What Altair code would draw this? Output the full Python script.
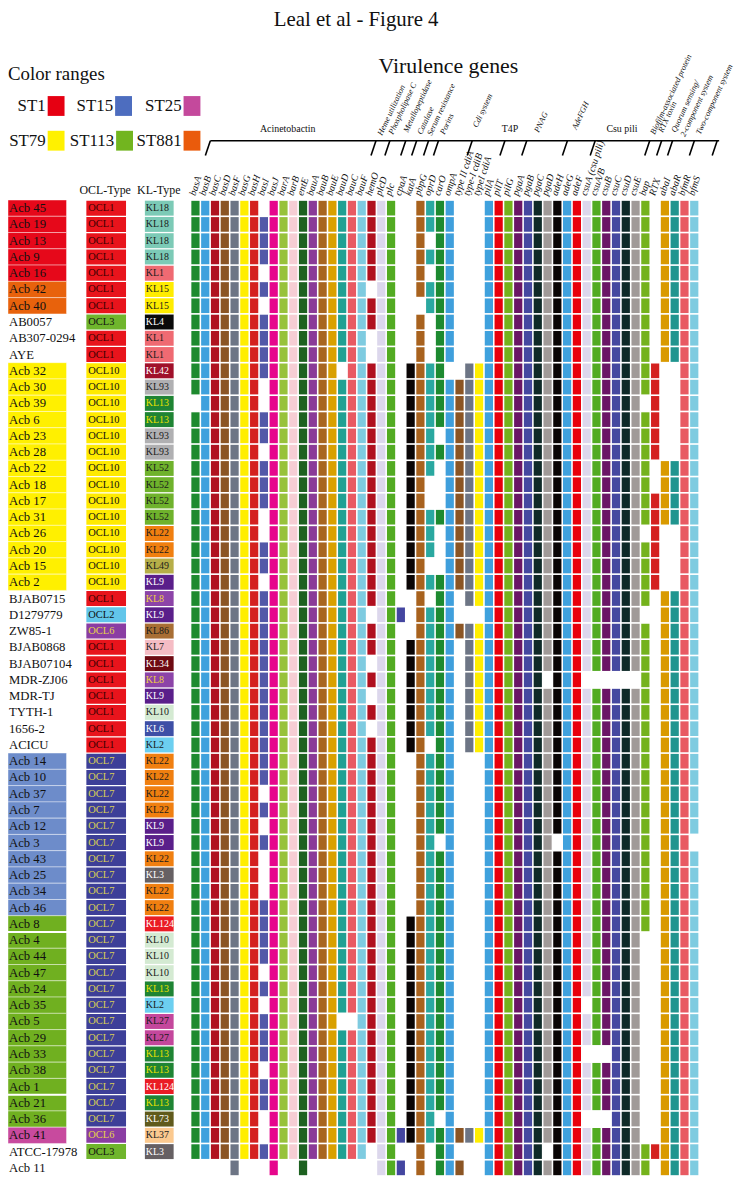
import altair as alt
import pandas as pd

SERIF = "Liberation Serif"

# ---------------- data ----------------
strains = ["Acb 45", "Acb 19", "Acb 13", "Acb 9", "Acb 16", "Acb 42", "Acb 40", "AB0057", "AB307-0294", "AYE",
           "Acb 32", "Acb 30", "Acb 39", "Acb 6", "Acb 23", "Acb 28", "Acb 22", "Acb 18", "Acb 17", "Acb 31",
           "Acb 26", "Acb 20", "Acb 15", "Acb 2",
           "BJAB0715", "D1279779", "ZW85-1", "BJAB0868", "BJAB07104", "MDR-ZJ06", "MDR-TJ", "TYTH-1", "1656-2", "ACICU",
           "Acb 14", "Acb 10", "Acb 37", "Acb 7", "Acb 12", "Acb 3", "Acb 43", "Acb 25", "Acb 34", "Acb 46",
           "Acb 8", "Acb 4", "Acb 44", "Acb 47", "Acb 24", "Acb 35", "Acb 5", "Acb 29", "Acb 33", "Acb 38",
           "Acb 1", "Acb 21", "Acb 36",
           "Acb 41", "ATCC-17978", "Acb 11"]

st_types = (["ST1"] * 5 + ["ST881"] * 2 + [""] * 3 + ["ST79"] * 14 + [""] * 10 +
            ["ST15"] * 10 + ["ST113"] * 13 + ["ST25"] + [""] * 2)
st_block_breaks = ["Acb 8", "Acb 1"]

ocl_types = (["OCL1"] * 7 + ["OCL3"] + ["OCL1"] * 2 + ["OCL10"] * 14 +
             ["OCL1", "OCL2", "OCL6"] + ["OCL1"] * 7 + ["OCL7"] * 23 + ["OCL6", "OCL3", ""])

kl_types = ["KL18", "KL18", "KL18", "KL18", "KL1", "KL15", "KL15", "KL4", "KL1", "KL1",
            "KL42", "KL93", "KL13", "KL13", "KL93", "KL93", "KL52", "KL52", "KL52", "KL52", "KL22", "KL22", "KL49", "KL9",
            "KL8", "KL9", "KL86", "KL7", "KL34", "KL8", "KL9", "KL10", "KL6", "KL2",
            "KL22", "KL22", "KL22", "KL22", "KL9", "KL9", "KL22", "KL3", "KL22", "KL22",
            "KL124", "KL10", "KL10", "KL10", "KL13", "KL2", "KL27", "KL27", "KL13", "KL13", "KL124", "KL13", "KL73",
            "KL37", "KL3", ""]

genes = ["basA", "basB", "basC", "basD", "basF", "basG", "basH", "basI", "basJ", "barA", "barB", "entE",
         "bauA", "bauB", "bauE", "bauD", "bauC", "bauF", "hemO", "plcD", "plc", "cpaA", "katA", "pbpG",
         "oprD", "carO", "ompA", "type II cdiA", "type-I cdiB", "typeI cdiA", "pilA", "pilT", "pilG",
         "pgaA", "pgaB", "pgaC", "pgaD", "adeH", "adeG", "adeF", "csuA (csu pili)", "csuA/B", "csuB",
         "csuC", "csuD", "csuE", "bap", "RTX", "abaI", "abaR", "bfmR", "bfmS"]

gene_colors = ["#1e8a2e", "#3fa1dd", "#b0111f", "#8b5524", "#6d7585", "#ffee00", "#d4211f", "#5259a8",
               "#e6068c", "#97c23a", "#f6cdd4", "#1d6120", "#8a3a98", "#a8661f", "#d9a000", "#20a093",
               "#e85a62", "#7ecbe0", "#b0101f", "#dcd7ec", "#52ab22", "#4446a0", "#0a0505", "#a8621e",
               "#2aa8a0", "#1d8a30", "#3f9fdc", "#8b5524", "#6d7585", "#ffee00", "#3fa1dd", "#e8000c",
               "#74b21c", "#6a1666", "#4548a0", "#0e2a28", "#a09a98", "#0a0505", "#3fa1dd", "#e8000c",
               "#dcd7ec", "#52ab22", "#6a1666", "#4548a0", "#0e2a28", "#a09a98", "#74b21c", "#d4211f",
               "#d99a00", "#20958f", "#e85a62", "#7ecbe0"]

# genes (1-based) missing in each strain
absent = [
    [8, 22, 23, 28, 29, 30, 48],
    [22, 23, 28, 29, 30, 48],
    [22, 23, 25, 28, 29, 30, 48],
    [22, 23, 28, 29, 30, 48],
    [8, 22, 23, 25, 28, 29, 30, 48],
    [19, 22, 23, 28, 29, 30, 48],
    [8, 22, 23, 24, 28, 29, 30, 48],
    [22, 23, 25, 28, 29, 30, 48],
    [19, 22, 23, 25, 28, 29, 30, 48],
    [19, 22, 23, 25, 28, 29, 30, 48],
    [16, 22, 27, 28, 49, 50],
    [8, 22, 49, 50],
    [1, 8, 22, 47, 49, 50],
    [22, 49, 50],
    [22, 26, 49, 50],
    [8, 22, 49, 50],
    [22, 26, 48],
    [22, 25, 26, 48],
    [22, 25, 26],
    [8, 22],
    [8, 22, 26, 47, 49, 50],
    [22, 26, 49, 50],
    [22, 25, 26, 49, 50],
    [8, 22, 49, 50],
    [22, 23, 25, 28, 48],
    [19, 23, 28, 29, 30, 47, 48],
    [22, 23, 48],
    [22, 28, 48],
    [19, 22, 28, 48],
    [22, 28, 37, 41, 42, 43, 44, 45, 46, 48],
    [19, 22, 28, 48],
    [22, 28, 48],
    [19, 22, 28, 48],
    [22, 25, 28, 48],
    [22, 23, 28, 29, 30, 48],
    [22, 23, 28, 29, 30, 48],
    [8, 22, 23, 28, 29, 30, 48],
    [22, 23, 28, 29, 30, 48],
    [8, 22, 23, 28, 29, 30, 48],
    [22, 23, 26, 28, 29, 30, 38, 48, 52],
    [8, 22, 23, 28, 29, 30, 48],
    [8, 22, 23, 28, 29, 30, 48],
    [8, 22, 23, 28, 29, 30, 48],
    [22, 23, 28, 29, 30, 48],
    [22, 28, 29, 30, 48],
    [22, 28, 29, 30, 47, 48],
    [22, 28, 29, 30, 47, 48],
    [8, 22, 28, 29, 30, 47, 48],
    [22, 28, 29, 30, 47, 48],
    [8, 22, 28, 29, 30, 41, 47, 48],
    [16, 17, 22, 28, 29, 30, 47, 48],
    [22, 28, 29, 30, 47, 48],
    [22, 28, 29, 30, 41, 42, 43, 47, 48],
    [8, 22, 28, 29, 30, 47, 48],
    [22, 28, 29, 30, 47, 48],
    [22, 28, 29, 30, 47, 48],
    [8, 22, 26, 28, 29, 30, 41, 42, 43, 47, 48],
    [8, 47, 48],
    [19, 22, 23, 25, 28, 29, 30, 37],
    [1, 2, 3, 4, 6, 7, 8, 10, 11, 13, 14, 15, 16, 17, 18, 19, 23, 25, 29, 30, 48],
]

st_colors = {"ST1": "#e6081a", "ST881": "#e8620c", "ST79": "#fff000", "ST15": "#6d8cca",
             "ST113": "#70b020", "ST25": "#c84a9e"}
legend_st = ["ST1", "ST15", "ST25", "ST79", "ST113", "ST881"]
legend_colors = ["#e60012", "#4d6dbf", "#c4499c", "#fff100", "#72b51f", "#ea5b0c"]

ocl_colors = {"OCL1": "#e8141c", "OCL3": "#6fb52c", "OCL10": "#ffea00", "OCL2": "#62c6ea",
              "OCL6": "#8a3da3", "OCL7": "#3d3f98"}
ocl_text_colors = {"OCL1": "#3a0000", "OCL3": "#111111", "OCL10": "#111111", "OCL2": "#111111",
                   "OCL6": "#e6d34a", "OCL7": "#d9cf55"}
kl_colors = {"KL18": "#7ccab6", "KL1": "#ef6a72", "KL15": "#ffec00", "KL4": "#0a0a0a", "KL42": "#a0102a",
             "KL93": "#b0b0b2", "KL13": "#1f8434", "KL52": "#6fb22c", "KL22": "#f07f10", "KL49": "#b6ae48",
             "KL9": "#5a1f8a", "KL8": "#8c44a8", "KL86": "#a86e34", "KL7": "#f5bcc4", "KL34": "#6e0a12",
             "KL10": "#d4ead2", "KL6": "#3e4fa6", "KL2": "#6ccff0", "KL3": "#666063", "KL124": "#ea1c24",
             "KL27": "#c4479c", "KL73": "#605a1c", "KL37": "#fbc98f"}
kl_light_text = {"KL4": "#ffffff", "KL42": "#ffffff", "KL9": "#ffffff", "KL34": "#ffffff", "KL6": "#ffffff",
                 "KL3": "#ffffff", "KL124": "#ffffff", "KL73": "#ffffff", "KL13": "#e8e000", "KL8": "#f0d040"}

group_labels_rot = ["Heme utilization", "Phospholipase C", "Metallopeptidase", "Catalase",
                    "Serum resistance", "Porins", "Cdi system", "PNAG", "AdeFGH",
                    "Biofilm-associated protein", "RTX toxin", "Quorum sensing/\n2-component system",
                    "Two-component system"]
group_labels_flat = ["Acinetobactin", "T4P", "Csu pili"]

# ---------------- layout (pixels, chart coordinates) ----------------
XS = alt.Scale(domain=[0, 51], range=[189, 691.9], nice=False, zero=False)
YS = alt.Scale(domain=[0, 59], range=[197, 1164.6], nice=False, zero=False)

rot_pos = [(379, 125), (390, 124), (405, 122), (419, 124), (429, 125), (442, 124), (475, 117),
           (537, 122), (575, 119), (654, 124), (662, 122), (675, 122), (700, 124)]
flat_pos = [(282, 122), (506, 122), (619, 122)]
tick_tops = [204, 371, 385, 401, 412, 424, 434, 468, 501, 523, 564, 592, 647, 659, 670, 692, 715]
legend_pos = [(40, 94), (108, 94), (177, 94), (40, 129), (109, 129), (177, 129)]

# ---------------- tables ----------------
cells = []
for r, name in enumerate(strains):
    miss = set(absent[r])
    for g in range(len(genes)):
        if (g + 1) not in miss:
            cells.append({"r": r, "g": g, "color": gene_colors[g],
                          "x1": g - 0.42, "x2": g + 0.42, "y1": r - 0.45, "y2": r + 0.45})
cell_df = pd.DataFrame(cells)

tab = pd.DataFrame({"r": range(len(strains)), "name": strains, "st": st_types,
                    "ocl": ocl_types, "kl": kl_types})
tab["yb1"] = tab["r"] - 0.5
tab["yb2"] = tab["r"] + 0.5
tab["yc1"] = tab["r"] - 0.46
tab["yc2"] = tab["r"] + 0.46
tab["st_color"] = tab["st"].map(lambda s: st_colors.get(s, "#ffffff"))
tab["ocl_color"] = tab["ocl"].map(lambda s: ocl_colors.get(s, "#ffffff"))
tab["ocl_tc"] = tab["ocl"].map(lambda s: ocl_text_colors.get(s, "#111111"))
tab["kl_color"] = tab["kl"].map(lambda s: kl_colors.get(s, "#ffffff"))
tab["kl_tc"] = tab["kl"].map(lambda s: kl_light_text.get(s, "#1a1a1a"))

st_tab = tab[tab["st"] != ""]
ocl_tab = tab[tab["ocl"] != ""]
kl_tab = tab[tab["kl"] != ""]
sep_df = pd.DataFrame({"ys": [strains.index(s) + 0.5 for s in st_block_breaks]})

gene_df = pd.DataFrame({"g": [i - 0.3 for i in range(len(genes))], "gene": genes})

rot_df = pd.DataFrame({"label": group_labels_rot, "px": [p[0] for p in rot_pos], "py": [p[1] for p in rot_pos]})
flat_df = pd.DataFrame({"label": group_labels_flat, "px": [p[0] for p in flat_pos], "py": [p[1] for p in flat_pos]})

seg = [{"x": 204, "y": 129, "x2": 717, "y2": 129}]
for t in tick_tops:
    seg.append({"x": t, "y": 129, "x2": t - 5, "y2": 144})
seg_df = pd.DataFrame(seg)

leg_df = pd.DataFrame({"label": legend_st, "color": legend_colors,
                       "bx": [p[0] for p in legend_pos], "by": [p[1] for p in legend_pos]})
leg_df["bx2"] = leg_df["bx"] + 17
leg_df["by1"] = leg_df["by"] - 10
leg_df["by2"] = leg_df["by"] + 10
leg_df["tx"] = leg_df["bx"] - 2

head_df = pd.DataFrame({"label": ["Leal et al - Figure 4", "Virulence genes", "Color ranges", "OCL-Type", "KL-Type"],
                        "px": [351, 444, 0, 98, 152], "py": [7, 54, 62, 179, 179],
                        "size": [21, 22, 19, 12, 12],
                        "align": ["center", "center", "left", "center", "center"]})


def pxX(f):
    return alt.X(f, scale=None, axis=None)


def pxY(f):
    return alt.Y(f, scale=None, axis=None)


# ---------------- layers ----------------
name_bg = alt.Chart(st_tab).mark_rect(stroke="white", strokeWidth=0.6, strokeOpacity=0.7).encode(
    x=alt.value(0), x2=alt.value(59),
    y=alt.Y("yb1:Q", scale=YS, axis=None), y2="yb2:Q",
    color=alt.Color("st_color:N", scale=None))

seps = alt.Chart(sep_df).mark_rule(color="white", strokeWidth=2).encode(
    x=alt.value(0), x2=alt.value(60), y=alt.Y("ys:Q", scale=YS, axis=None))

name_txt = alt.Chart(tab).mark_text(align="left", baseline="middle", font=SERIF, fontSize=12.8,
                                    color="#111111").encode(
    x=alt.value(1), y=alt.Y("r:Q", scale=YS, axis=None), text="name:N")

ocl_rect = alt.Chart(ocl_tab).mark_rect().encode(
    x=alt.value(79), x2=alt.value(119),
    y=alt.Y("yc1:Q", scale=YS, axis=None), y2="yc2:Q",
    color=alt.Color("ocl_color:N", scale=None))
ocl_txt = alt.Chart(ocl_tab).mark_text(align="left", baseline="middle", font=SERIF, fontSize=10.5).encode(
    x=alt.value(81), y=alt.Y("r:Q", scale=YS, axis=None), text="ocl:N",
    color=alt.Color("ocl_tc:N", scale=None))

kl_rect = alt.Chart(kl_tab).mark_rect().encode(
    x=alt.value(138), x2=alt.value(167),
    y=alt.Y("yc1:Q", scale=YS, axis=None), y2="yc2:Q",
    color=alt.Color("kl_color:N", scale=None))
kl_txt = alt.Chart(kl_tab).mark_text(align="left", baseline="middle", font=SERIF, fontSize=10).encode(
    x=alt.value(139), y=alt.Y("r:Q", scale=YS, axis=None), text="kl:N",
    color=alt.Color("kl_tc:N", scale=None))

heat = alt.Chart(cell_df).mark_rect().encode(
    x=alt.X("x1:Q", scale=XS, axis=None), x2="x2:Q",
    y=alt.Y("y1:Q", scale=YS, axis=None), y2="y2:Q",
    color=alt.Color("color:N", scale=None))

gene_txt = alt.Chart(gene_df).mark_text(align="left", baseline="middle", angle=288, font=SERIF,
                                        fontStyle="italic", fontSize=10, color="#111111").encode(
    x=alt.X("g:Q", scale=XS, axis=None), y=alt.value(184), text="gene:N")

rot_txt = alt.Chart(rot_df).mark_text(align="left", baseline="bottom", angle=295, font=SERIF,
                                      fontStyle="italic", fontSize=8.3, lineBreak="\n",
                                      color="#111111").encode(
    x=pxX("px:Q"), y=pxY("py:Q"), text="label:N")

flat_txt = alt.Chart(flat_df).mark_text(align="center", baseline="bottom", font=SERIF, fontSize=10,
                                        color="#111111").encode(
    x=pxX("px:Q"), y=pxY("py:Q"), text="label:N")

bracket = alt.Chart(seg_df).mark_rule(color="black", strokeWidth=1.6).encode(
    x=pxX("x:Q"), y=pxY("y:Q"), x2="x2:Q", y2="y2:Q")

leg_rect = alt.Chart(leg_df).mark_rect().encode(
    x=pxX("bx:Q"), x2="bx2:Q", y=pxY("by1:Q"), y2="by2:Q",
    color=alt.Color("color:N", scale=None))
leg_txt = alt.Chart(leg_df).mark_text(align="right", baseline="middle", font=SERIF, fontSize=17,
                                      color="#111111").encode(
    x=pxX("tx:Q"), y=pxY("by:Q"), text="label:N")

head_layers = []
for i in range(len(head_df)):
    sub = head_df.iloc[[i]]
    head_layers.append(alt.Chart(sub).mark_text(
        align=sub["align"].iloc[0], baseline="middle", font=SERIF,
        fontSize=float(sub["size"].iloc[0]), color="#111111").encode(
        x=pxX("px:Q"), y=pxY("py:Q"), text="label:N"))

chart = alt.layer(
    name_bg, seps, name_txt, ocl_rect, ocl_txt, kl_rect, kl_txt, heat, gene_txt,
    bracket, rot_txt, flat_txt, leg_rect, leg_txt, *head_layers
).resolve_scale(
    x="independent", y="independent"
).properties(
    width=736, height=1168,
    autosize=alt.AutoSizeParams(type="none"),
    padding=0,
    background="white",
).configure_view(stroke=None)

chart.save("out.html", embed_options={"renderer": "svg", "actions": False})
